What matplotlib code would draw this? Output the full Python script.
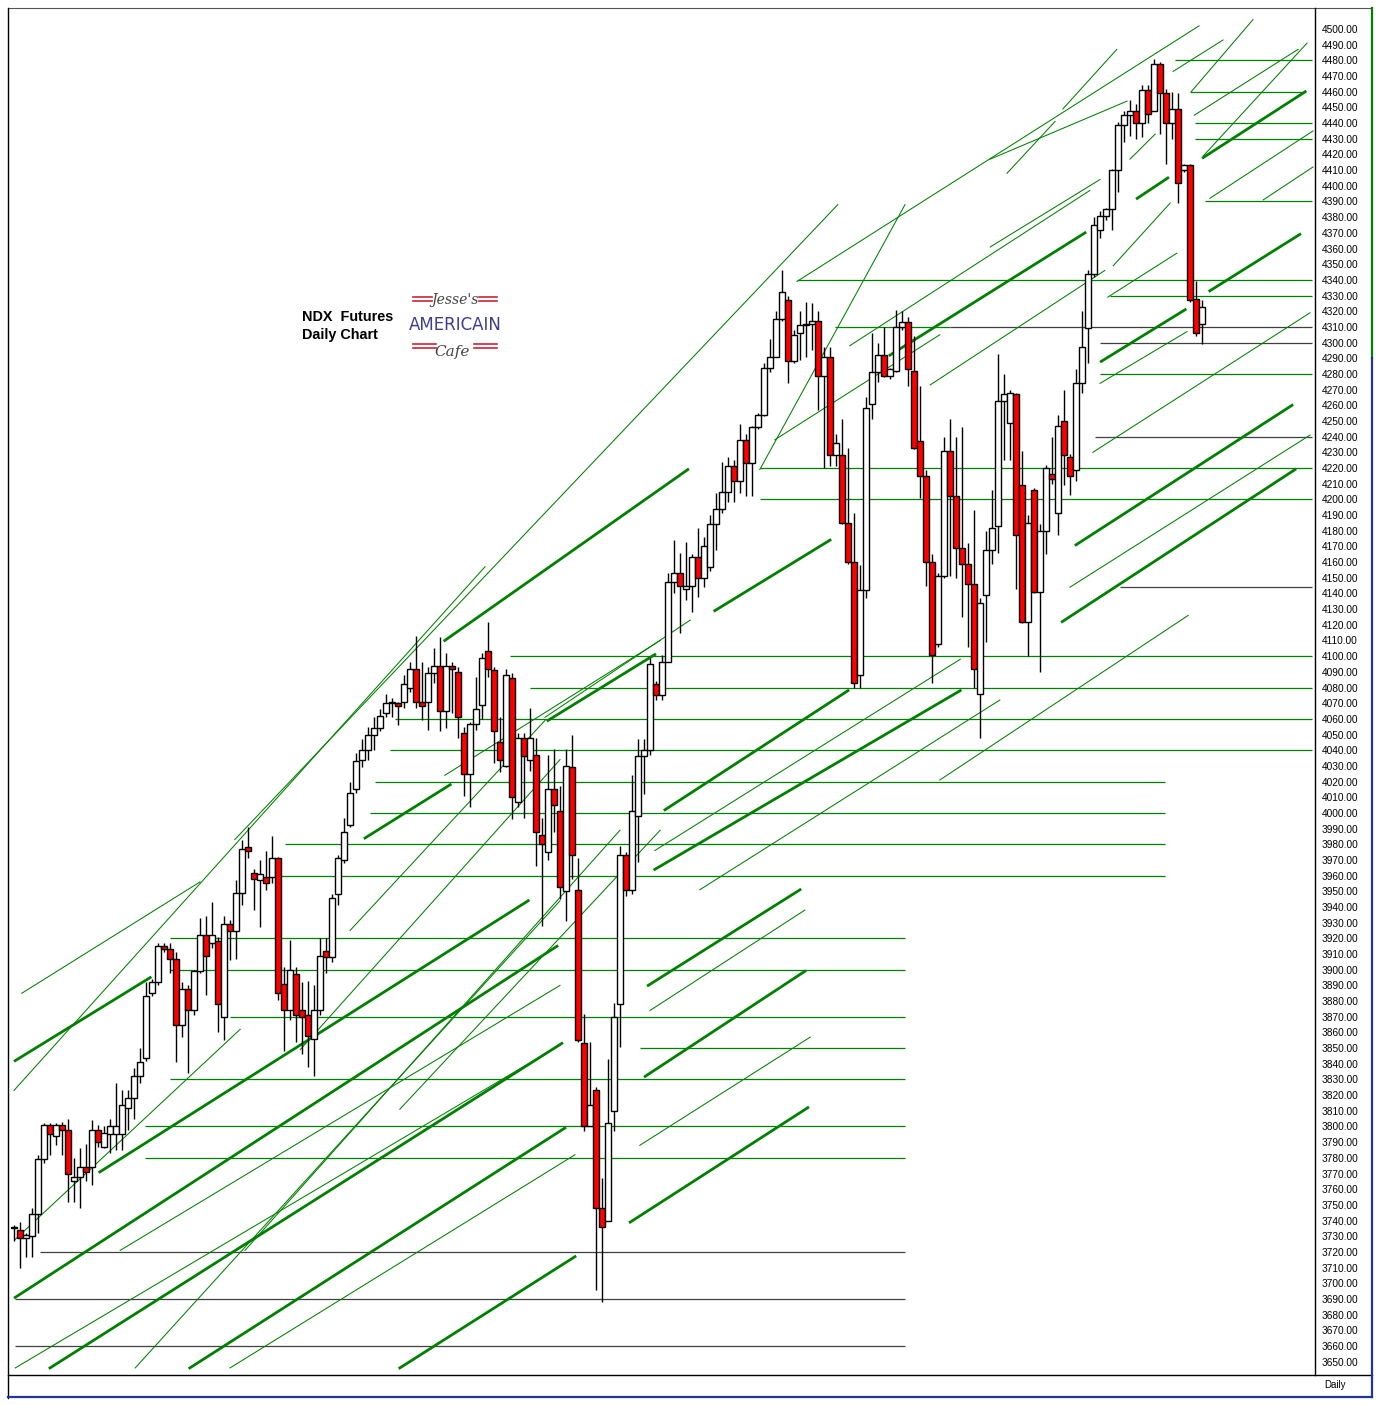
import numpy as np
import matplotlib
matplotlib.use("Agg")
import matplotlib.pyplot as plt
from matplotlib.lines import Line2D
from matplotlib import font_manager

W, H = 1383, 1405

# daily OHLC (bar 0 = first bar on the left)
opens = [3735, 3734, 3729, 3730, 3744, 3779, 3801, 3794, 3801, 3798,
         3765, 3768, 3774, 3774, 3798, 3787, 3795, 3795, 3795, 3812,
         3818, 3832, 3844, 3885, 3892, 3915, 3913, 3907, 3865, 3888,
         3874, 3899, 3922, 3917, 3918, 3870, 3929, 3925, 3949, 3978,
         3962, 3957, 3959, 3959, 3971, 3891, 3874, 3897, 3874, 3871,
         3856, 3874, 3912, 3908, 3948, 3970, 3992, 4015, 4034, 4040,
         4050, 4054, 4064, 4071, 4070, 4071, 4080, 4092, 4071, 4071,
         4089, 4094, 4065, 4094, 4090, 4051, 4025, 4057, 4069, 4103,
         4091, 4045, 4030, 4086, 4007, 4048, 4034, 4037, 3986, 3975,
         4015, 4001, 3950, 4029, 3951, 3853, 3800, 3823, 3748, 3740,
         3810, 3878, 3973, 3951, 3998, 4036, 4040, 4082, 4075, 4096,
         4147, 4153, 4143, 4145, 4163, 4150, 4157, 4184, 4194, 4205,
         4221, 4212, 4238, 4223, 4246, 4254, 4284, 4291, 4315, 4327,
         4288, 4306, 4311, 4312, 4314, 4279, 4291, 4228, 4228, 4185,
         4160, 4088, 4142, 4261, 4281, 4292, 4279, 4282, 4310, 4313,
         4282, 4237, 4215, 4160, 4108, 4151, 4231, 4202, 4169, 4159,
         4146, 4076, 4139, 4168, 4183, 4263, 4249, 4267, 4209, 4122,
         4206, 4141, 4180, 4216, 4191, 4250, 4227, 4219, 4274, 4309,
         4344, 4372, 4381, 4385, 4410, 4439, 4445, 4448, 4440, 4461,
         4448, 4478, 4459, 4440, 4449, 4410, 4413, 4328, 4312]
highs = [3737, 3739, 3732, 3748, 3782, 3802, 3802, 3802, 3803, 3805,
         3780, 3786, 3789, 3804, 3801, 3800, 3805, 3828, 3823, 3823,
         3837, 3850, 3892, 3894, 3917, 3917, 3917, 3911, 3892, 3890,
         3900, 3933, 3934, 3943, 3921, 3934, 3932, 3957, 3983, 3991,
         3964, 3970, 3976, 3985, 3972, 3902, 3919, 3902, 3892, 3893,
         3890, 3920, 3920, 3948, 3973, 3997, 4020, 4038, 4047, 4055,
         4061, 4066, 4076, 4073, 4071, 4088, 4096, 4113, 4096, 4093,
         4105, 4112, 4102, 4096, 4093, 4055, 4058, 4087, 4102, 4122,
         4093, 4061, 4092, 4089, 4051, 4051, 4067, 4048, 3997, 4037,
         4041, 4017, 4041, 4050, 3971, 3872, 3854, 3825, 3767, 3843,
         3879, 3979, 3975, 4024, 4047, 4047, 4099, 4084, 4101, 4153,
         4174, 4166, 4173, 4165, 4182, 4176, 4190, 4204, 4224, 4227,
         4225, 4248, 4242, 4247, 4255, 4287, 4302, 4320, 4346, 4330,
         4308, 4320, 4326, 4325, 4320, 4297, 4297, 4242, 4251, 4233,
         4191, 4158, 4265, 4306, 4300, 4310, 4284, 4321, 4320, 4316,
         4304, 4272, 4219, 4165, 4153, 4240, 4251, 4240, 4246, 4172,
         4193, 4137, 4180, 4206, 4293, 4280, 4270, 4268, 4231, 4190,
         4207, 4184, 4222, 4240, 4254, 4270, 4229, 4283, 4320, 4346,
         4380, 4384, 4386, 4411, 4441, 4448, 4455, 4452, 4464, 4464,
         4481, 4479, 4462, 4460, 4459, 4414, 4414, 4339, 4327]
lows = [3727, 3710, 3717, 3717, 3732, 3777, 3782, 3788, 3782, 3752,
        3752, 3748, 3765, 3763, 3787, 3786, 3783, 3785, 3785, 3798,
        3805, 3828, 3842, 3883, 3890, 3911, 3898, 3841, 3857, 3834,
        3871, 3898, 3884, 3914, 3860, 3855, 3906, 3907, 3941, 3971,
        3938, 3927, 3951, 3955, 3881, 3848, 3868, 3854, 3846, 3838,
        3832, 3871, 3898, 3905, 3941, 3968, 3991, 4013, 4029, 4034,
        4040, 4052, 4061, 4061, 4056, 4067, 4077, 4067, 4059, 4053,
        4083, 4052, 4054, 4064, 4048, 4011, 4004, 4053, 4060, 4087,
        4032, 4026, 4029, 3996, 4004, 3997, 4027, 3966, 3928, 3970,
        3988, 3945, 3931, 3958, 3854, 3797, 3800, 3696, 3688, 3740,
        3797, 3851, 3947, 3948, 3969, 4012, 4037, 4072, 4072, 4096,
        4140, 4115, 4136, 4128, 4138, 4144, 4154, 4168, 4191, 4198,
        4198, 4204, 4202, 4202, 4245, 4253, 4281, 4291, 4314, 4274,
        4287, 4289, 4291, 4295, 4257, 4220, 4221, 4221, 4184, 4159,
        4080, 4080, 4137, 4251, 4275, 4278, 4277, 4281, 4308, 4272,
        4232, 4201, 4145, 4083, 4106, 4150, 4151, 4150, 4125, 4106,
        4080, 4048, 4109, 4159, 4166, 4225, 4225, 4143, 4121, 4100,
        4140, 4090, 4165, 4210, 4177, 4209, 4203, 4212, 4268, 4287,
        4342, 4367, 4378, 4372, 4396, 4428, 4432, 4430, 4431, 4440,
        4448, 4433, 4414, 4430, 4389, 4409, 4326, 4304, 4299]
closes = [3735, 3729, 3731, 3744, 3779, 3801, 3795, 3801, 3798, 3770,
          3768, 3774, 3771, 3798, 3790, 3796, 3800, 3800, 3814, 3818,
          3832, 3841, 3883, 3892, 3915, 3913, 3907, 3865, 3888, 3874,
          3899, 3922, 3909, 3922, 3878, 3929, 3925, 3949, 3977, 3976,
          3958, 3961, 3955, 3971, 3885, 3874, 3900, 3871, 3870, 3858,
          3874, 3909, 3908, 3946, 3971, 3988, 4013, 4033, 4040, 4050,
          4054, 4062, 4070, 4070, 4068, 4082, 4092, 4071, 4068, 4089,
          4094, 4065, 4094, 4092, 4061, 4025, 4057, 4066, 4099, 4092,
          4052, 4034, 4088, 4010, 4048, 4036, 4048, 3988, 3980, 4015,
          4005, 3953, 4030, 3973, 3855, 3800, 3814, 3748, 3736, 3802,
          3870, 3973, 3951, 4001, 4036, 4040, 4095, 4075, 4096, 4147,
          4153, 4145, 4145, 4163, 4150, 4170, 4184, 4194, 4205, 4221,
          4212, 4238, 4223, 4246, 4254, 4284, 4291, 4315, 4332, 4288,
          4305, 4311, 4312, 4314, 4279, 4291, 4228, 4236, 4185, 4160,
          4083, 4142, 4258, 4281, 4292, 4279, 4283, 4310, 4313, 4283,
          4233, 4215, 4160, 4101, 4151, 4231, 4202, 4169, 4159, 4146,
          4092, 4134, 4168, 4182, 4263, 4267, 4268, 4177, 4122, 4185,
          4141, 4180, 4220, 4213, 4247, 4228, 4215, 4274, 4297, 4344,
          4375, 4381, 4385, 4410, 4439, 4445, 4448, 4440, 4461, 4446,
          4478, 4459, 4440, 4449, 4402, 4413, 4327, 4306, 4323]

# horizontal levels: price, from bar, to bar, grey?
level_price = [4480, 4460, 4440, 4430, 4390, 4340, 4330, 4310, 4310, 4300,
               4280, 4240, 4220, 4200, 4144, 4100, 4080, 4060, 4040, 4020,
               4000, 3980, 3960, 3920, 3900, 3870, 3850, 3830, 3800, 3780,
               3720, 3690, 3660]
level_from = [193.5, 196, 196.8, 196.8, 198.5, 130.5, 182.7, 136.8, 156, 181,
              181, 180.2, 124.3, 124.3, 184.3, 82.7, 86, 63.5, 62.7, 60.2,
              59.3, 45.2, 44.3, 26, 26, 36, 104.3, 26, 21.8, 21.8,
              4.3, 0.2, 0.2]
level_to = [216.3, 215.2, 216.3, 216.3, 216.3, 216.3, 216.3, 156, 216.3, 216.3,
            216.3, 216.3, 216.3, 216.3, 216.3, 216.3, 216.3, 216.3, 216.3, 191.8,
            191.8, 191.8, 191.8, 148.5, 148.5, 148.5, 148.5, 148.5, 148.5, 148.5,
            148.5, 148.5, 148.5]
level_grey = [0, 0, 0, 0, 0, 0, 0, 0, 1, 1,
              0, 1, 0, 0, 1, 0, 0, 0, 0, 0,
              0, 0, 0, 0, 0, 0, 0, 0, 0, 0,
              1, 1, 1]

# trend lines: bar0, price0, bar1, price1
thin_lines = [
    (1.3, 3885, 31, 3956), (0, 3823, 78.5, 4157), (36.8, 3983, 137.3, 4388),
    (130.5, 4339, 197.5, 4502), (193.2, 4473, 201.5, 4493), (196.2, 4460, 206.5, 4506),
    (196.7, 4445, 214, 4487), (198.2, 4419, 215.5, 4491), (199.3, 4392, 216.5, 4435),
    (208.2, 4391, 216.5, 4412), (176, 4144, 216, 4241), (154.3, 4021, 195.7, 4126),
    (179.8, 4230, 216, 4319), (181, 4274, 195.5, 4307), (182.3, 4329, 193.8, 4357),
    (183.2, 4349, 192.7, 4389), (186, 4417, 190.2, 4433), (162.7, 4361, 181, 4404),
    (162.7, 4417, 185.5, 4454), (174.8, 4449, 183.8, 4487), (165.5, 4408, 173.5, 4441),
    (139.3, 4298, 179.3, 4397), (152.7, 4273, 181.8, 4346), (126.8, 4238, 154.3, 4305),
    (124.3, 4219, 148.5, 4388), (56, 3925, 88.5, 4059), (47.7, 3849, 91, 4034),
    (38.5, 3721, 101, 3989), (20.2, 3646, 91, 3944), (0.2, 3728, 37.7, 3862),
    (0.2, 3646, 91, 3852), (17.7, 3721, 91, 3890), (36, 3646, 93.5, 3782),
    (106, 3874, 131.8, 3938), (104.3, 3788, 132.7, 3857), (106.8, 3976, 157.7, 4098),
    (114.3, 3951, 164.3, 4072), (88.5, 4061, 112.7, 4123), (71.8, 4024, 107.7, 4110),
    (64.3, 3811, 107.7, 3989),
]
thick_lines = [
    (0.2, 3842, 22.7, 3895), (14.3, 3771, 85.7, 3944), (0.2, 3691, 90.5, 3915),
    (6, 3646, 91.3, 3853), (29.3, 3646, 91.8, 3799), (64.3, 3646, 93.5, 3717),
    (58.5, 3984, 72.7, 4018), (71.8, 4110, 112.3, 4219), (89, 4059, 106.8, 4101),
    (116.8, 4129, 136, 4174), (108.5, 4002, 139, 4078), (106.8, 3964, 157.7, 4078),
    (105.7, 3890, 131, 3951), (105.2, 3832, 131.8, 3899), (102.7, 3739, 132.3, 3812),
    (177, 4171, 213, 4260), (174.7, 4122, 213.5, 4219), (181.2, 4288, 195.2, 4321),
    (187.2, 4392, 192.3, 4405), (198.2, 4418, 215.2, 4460), (146, 4292, 178.5, 4370),
    (199.3, 4333, 214.3, 4369),
]

price_ticks = np.arange(3650, 4501, 10)

GREEN = "#008000"
GREY = "#404040"
RED = "#ff0000"

fig = plt.figure(figsize=(W / 100, H / 100), dpi=100)
fig.patch.set_facecolor("white")
ax = fig.add_axes([8 / W, (H - 1375) / H, 1307 / W, 1367 / H])
ax.set_facecolor("white")

# levels and trend lines
for p, a, b, g in zip(level_price, level_from, level_to, level_grey):
    ax.hlines(p, a, b, colors=GREY if g else GREEN, lw=0.9, zorder=1)
for b0, p0, b1, p1 in thin_lines:
    ax.plot([b0, b1], [p0, p1], color=GREEN, lw=0.75, zorder=1)
for b0, p0, b1, p1 in thick_lines:
    ax.plot([b0, b1], [p0, p1], color=GREEN, lw=2.0, zorder=1)

# candles
o = np.array(opens, float)
c = np.array(closes, float)
hi = np.maximum(np.array(highs, float), np.maximum(o, c))
lo = np.minimum(np.array(lows, float), np.minimum(o, c))
x = np.arange(len(o))
ax.vlines(x, lo, hi, colors="black", lw=1.0, zorder=2)
body_lo = np.minimum(o, c)
body_h = np.maximum(np.abs(c - o), 0.8)
cols = [RED if cc < oo else "white" for oo, cc in zip(o, c)]
ax.bar(x, body_h, bottom=body_lo, width=0.9, color=cols,
       edgecolor="black", linewidth=1.0, zorder=3)

ax.set_xlim(-1, 216.83)
ax.set_ylim(3641.5, 4513.4)
ax.set_xticks([])
ax.yaxis.tick_right()
ax.set_yticks(price_ticks)
ax.set_yticklabels(["%.2f" % v for v in price_ticks])
ax.tick_params(axis="y", length=0, pad=5, labelsize=7.3)
for lab in ax.get_yticklabels():
    lab.set_family("Liberation Sans")
for s in ax.spines.values():
    s.set_visible(False)


def fline(x0, y0, x1, y1, **kw):
    fig.add_artist(Line2D([x0 / W, x1 / W], [1 - y0 / H, 1 - y1 / H],
                          transform=fig.transFigure, **kw))


# frame pieces
fline(8, 8, 1372, 8, color="#555555", lw=0.8)
fline(8, 8, 8, 1398, color="black", lw=1.0)
fline(1315, 8, 1315, 1375, color="black", lw=1.0)
fline(8, 1375, 1372, 1375, color="black", lw=1.0)
fline(1372, 8, 1372, 358, color=GREEN, lw=1.6)
fline(1372, 358, 1372, 1397, color="#22359a", lw=1.6)
fline(8, 1397, 1372, 1397, color="#22359a", lw=1.6)

fig.text(1324 / W, 1 - 1385 / H, "Daily", fontsize=7, family="Liberation Sans",
         ha="left", va="center")

# title text
fig.text(302 / W, 1 - 317 / H, "NDX  Futures", fontsize=10.4, fontweight="bold",
         family="Liberation Sans", ha="left", va="center")
fig.text(302 / W, 1 - 335 / H, "Daily Chart", fontsize=10.4, fontweight="bold",
         family="Liberation Sans", ha="left", va="center")

# logo
installed = {f.name for f in font_manager.fontManager.ttflist}
logo_font = "Liberation Sans Narrow" if "Liberation Sans Narrow" in installed else "DejaVu Sans"
fig.text(455 / W, 1 - 300 / H, "Jesse's", fontsize=10, style="italic",
         family="DejaVu Serif", color="#444444", ha="center", va="center")
fig.text(455 / W, 1 - 325 / H, "AMERICAIN", fontsize=14 if logo_font != "DejaVu Sans" else 12,
         family=logo_font, color="#3d3d8f", ha="center", va="center")
fig.text(452 / W, 1 - 352 / H, "Cafe", fontsize=11, style="italic",
         family="DejaVu Serif", color="#444444", ha="center", va="center")
for yy in (297, 301):
    fline(413, yy, 432, yy, color="#cc2233", lw=1.2)
    fline(479, yy, 497, yy, color="#cc2233", lw=1.2)
for yy in (344, 348):
    fline(413, yy, 436, yy, color="#cc2233", lw=1.2)
    fline(474, yy, 497, yy, color="#cc2233", lw=1.2)

fig.savefig("out.png", dpi=100, facecolor="white")
